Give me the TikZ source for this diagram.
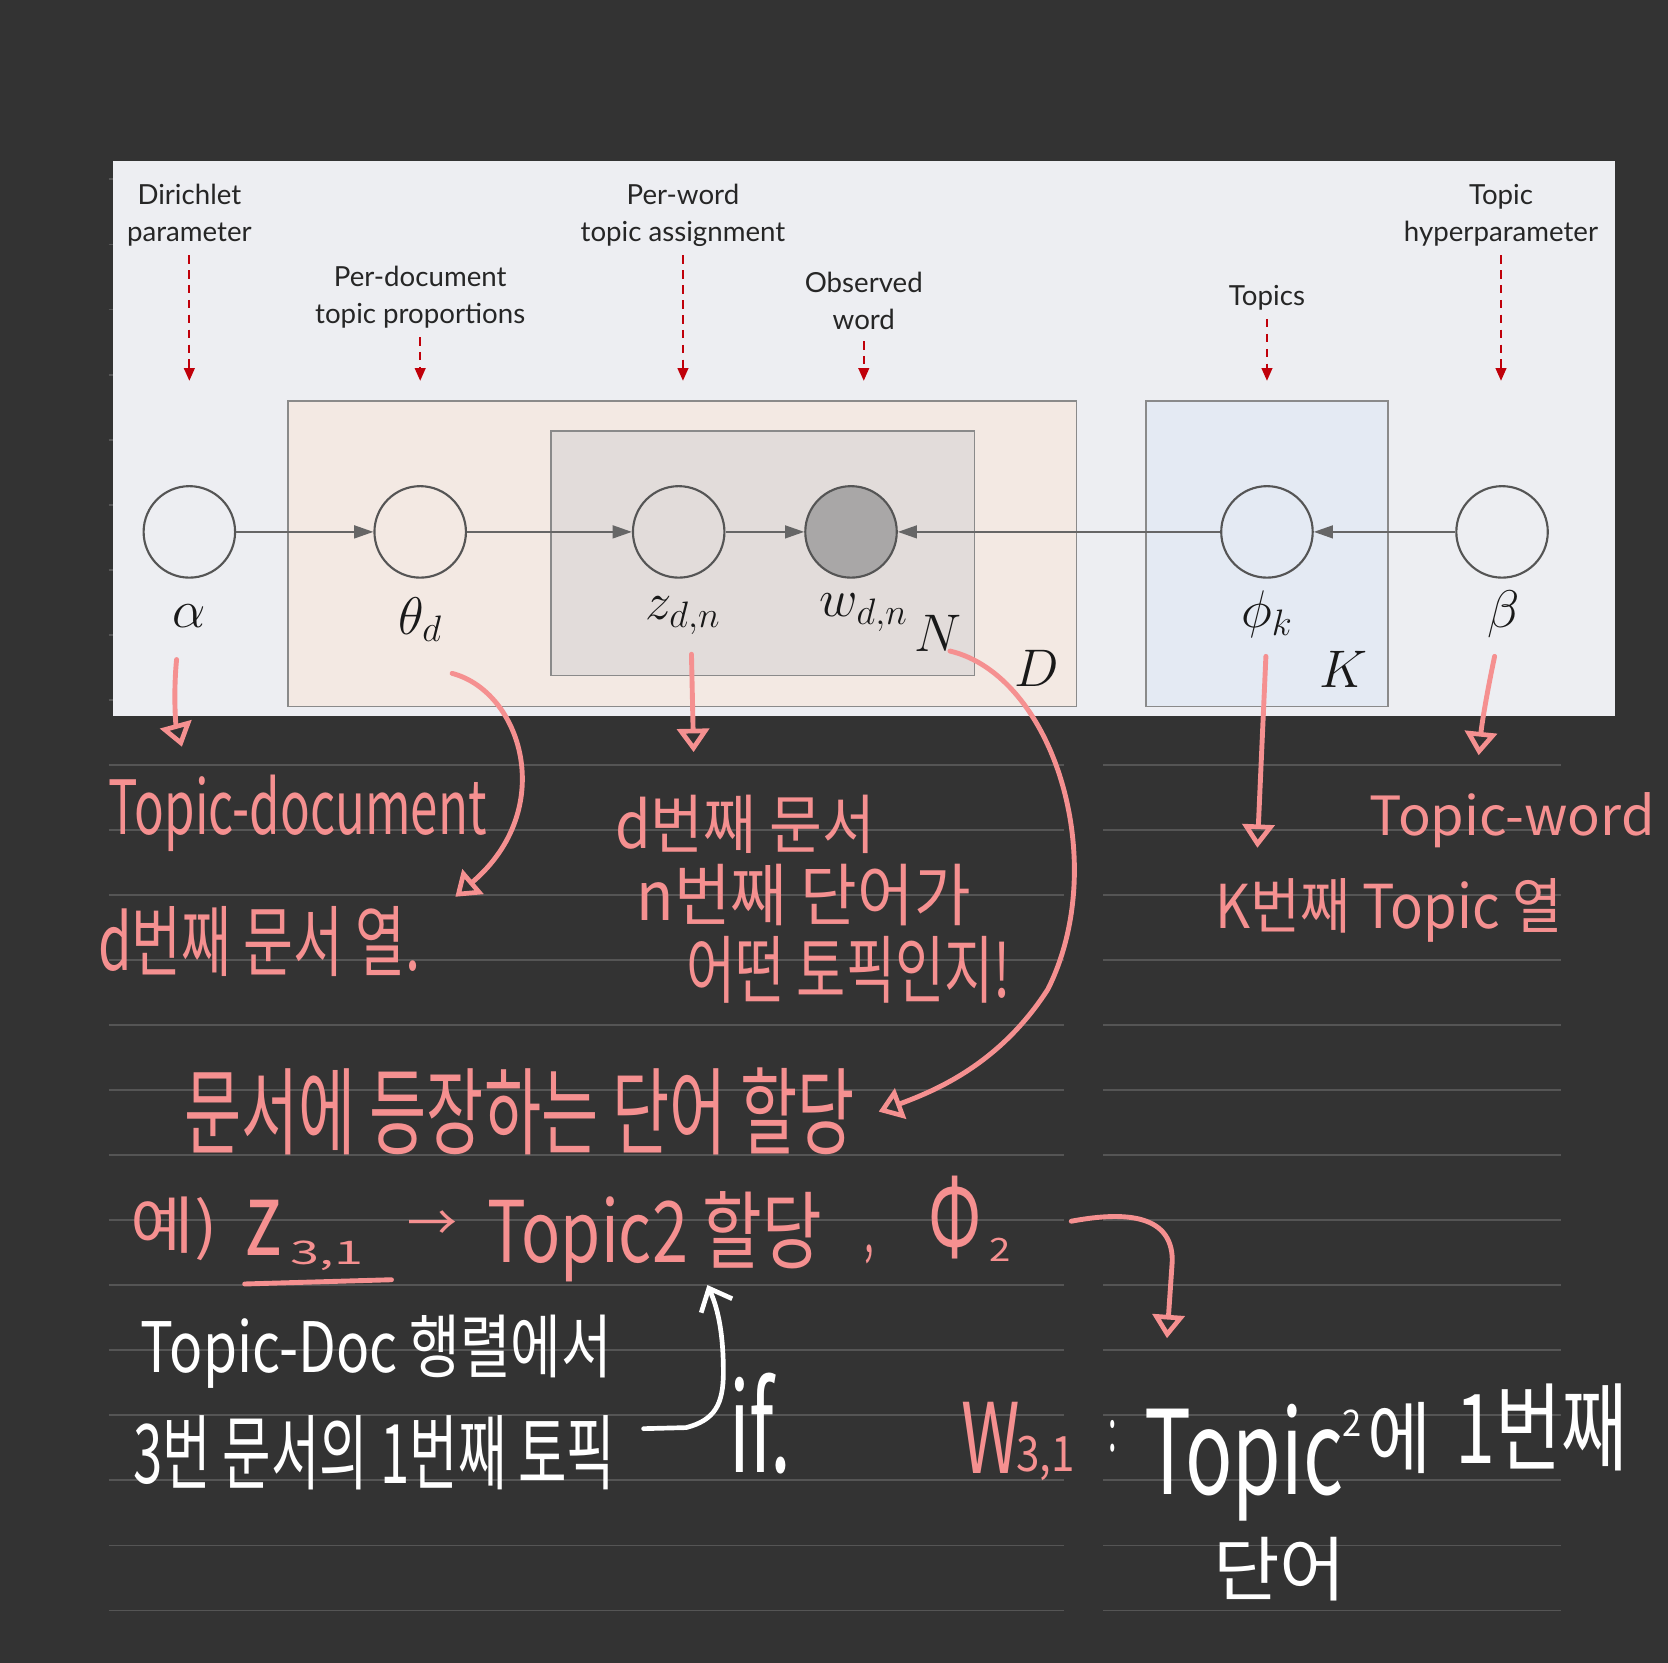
\documentclass[tikz,border=0pt]{standalone}
\usepackage{fontspec}
\usepackage{graphicx}
\setmainfont{Lato}
\newfontfamily\kr{Noto Sans CJK KR}
\usetikzlibrary{arrows.meta}
\definecolor{bgc}{HTML}{333333}
\definecolor{nbline}{HTML}{555555}
\definecolor{panelc}{HTML}{EDEEF2}
\definecolor{platD}{HTML}{F3E9E3}
\definecolor{platN}{HTML}{E2DCDA}
\definecolor{platK}{HTML}{E4EAF3}
\definecolor{plateb}{HTML}{8A8A8A}
\definecolor{nodeb}{HTML}{555555}
\definecolor{obsfill}{HTML}{A9A7A7}
\definecolor{connc}{HTML}{666666}
\definecolor{redc}{HTML}{C0000A}
\definecolor{pinkc}{HTML}{F59090}
\newdimen\pxu \pxu=0.5pt
\newcommand{\hwtext}[3]{\resizebox*{#1\pxu}{#2\pxu}{\kr #3}}
\begin{document}
\begin{tikzpicture}[x=0.5pt,y=-0.5pt,
  nb/.style={draw=nbline,line width=0.9pt},
  plate/.style={draw=plateb,line width=0.8pt},
  var/.style={circle,draw=nodeb,line width=1pt,minimum size=43pt,inner sep=0pt},
  conn/.style={draw=connc,line width=1pt,-{Triangle[length=9pt,width=6pt]}},
  toplab/.style={align=center,inner sep=0pt,font=\fontsize{13}{17.5}\selectfont,text=black!85,anchor=base},
  redarr/.style={draw=redc,line width=1pt,dash pattern=on 4pt off 3pt,-{Triangle[length=6pt,width=5pt]}},
  mlab/.style={inner sep=0pt,anchor=base,font=\fontsize{26}{30}\selectfont,text=black!90},
  hw/.style={inner sep=0pt,anchor=north west,text=pinkc},
  hwh/.style={inner sep=0pt,anchor=north west,text=white},
  pk/.style={draw=pinkc,line width=2.3pt,line cap=round,line join=round},
  pktip/.style={-{Triangle[open,length=11pt,width=15pt,line width=2.2pt]}},
  wh/.style={draw=white,line width=2.2pt,line cap=round,line join=round}]
\fill[bgc] (0,0) rectangle (1568,1563);
\useasboundingbox (0,0) rectangle (1568,1563);
% notebook lines
\foreach \k in {-9,...,13}{
  \draw[nb] (102,{719+61.15*\k}) -- (1000,{719+61.15*\k});
  \draw[nb] (1037,{719+61.15*\k}) -- (1467,{719+61.15*\k});
}
% panel
\fill[panelc] (106,151) rectangle (1518,673);
% plates
\draw[plate,fill=platD] (271,377) rectangle (1012,664);
\draw[plate,fill=platN] (518,405) rectangle (916,635);
\draw[plate,fill=platK] (1077,377) rectangle (1305,664);
% variables
\node[var] (alpha) at (178,500) {};
\node[var] (theta) at (395,500) {};
\node[var] (z) at (638,500) {};
\node[var,fill=obsfill] (w) at (800,500) {};
\node[var] (phi) at (1191,500) {};
\node[var] (beta) at (1412,500) {};
\draw[conn] (alpha) -- (theta);
\draw[conn] (theta) -- (z);
\draw[conn] (z) -- (w);
\draw[conn] (phi) -- (w);
\draw[conn] (beta) -- (phi);
% math labels
\node[mlab] (lalpha) at (178,590) {$\alpha$};
\node[mlab] (ltheta) at (395,596) {$\theta_d$};
\node[mlab] (lz) at (642,582) {$z_{d,n}$};
\node[mlab] (lw) at (812,580) {$w_{d,n}$};
\node[mlab] (lN) at (882,612) {$N$};
\node[mlab] (lD) at (975,645) {$D$};
\node[mlab] (lphi) at (1191,590) {$\phi_k$};
\node[mlab] (lK) at (1263,646) {$K$};
\node[mlab] (lbeta) at (1413,590) {$\beta$};
% top labels (base = baseline of last line)
\node[toplab] (t1) at (178,227) {Dirichlet\\parameter};
\node[toplab] (t2) at (395,304) {Per-document\\topic proportions};
\node[toplab] (t3) at (642,227) {Per-word\\topic assignment};
\node[toplab] (t4) at (812,310) {Observed\\word};
\node[toplab] (t5) at (1191,287) {Topics};
\node[toplab] (t6) at (1411,227) {Topic\\hyperparameter};
\draw[redarr,shorten <=4pt] (t1.south) -- (t1.south |- 0,358);
\draw[redarr,shorten <=4pt] (t2.south) -- (t2.south |- 0,358);
\draw[redarr,shorten <=4pt] (t3.south) -- (t3.south |- 0,358);
\draw[redarr,shorten <=5pt] (t4.south) -- (t4.south |- 0,358);
\draw[redarr,shorten <=4pt] (t5.south) -- (t5.south |- 0,358);
\draw[redarr,shorten <=4pt] (t6.south) -- (t6.south |- 0,358);
% pink handwritten notes
\node[hw] (p1) at (102,728) {\hwtext{355}{72}{Topic-document}};
\node[hw] (p2) at (92,852) {\hwtext{303}{66}{d번째 문서 열.}};
\node[hw] (p3) at (578,747) {\hwtext{244}{55}{d번째 문서}};
\node[hw] (p4) at (598,812) {\hwtext{314}{58}{n번째 단어가}};
\node[hw] (p5) at (645,880) {\hwtext{305}{63}{어떤 토픽인지!}};
\node[hw] (p6) at (173,1003) {\hwtext{630}{82}{문서에 등장하는 단어 할당}};
\node[hw] (p7) at (122,1125) {\hwtext{82}{60}{예)}};
\node[hw] (p8) at (230,1128) {\hwtext{34}{52}{z}};
\node[hw] (p9) at (273,1166) {\hwtext{68}{28}{3,1}};
\node[hw] (p10) at (383,1138) {\hwtext{47}{28}{→}};
\node[hw] (p11) at (458,1120) {\hwtext{314}{85}{Topic2 할당}};
\node[hw] (p12) at (812,1170) {\hwtext{9}{18}{,}};
\node[hw] (p13) at (872,1105) {\hwtext{50}{78}{Φ}};
\node[hw] (p14) at (930,1163) {\hwtext{20}{22}{2}};
\node[hw] (p15) at (1287,745) {\hwtext{268}{52}{Topic-word}};
\node[hw] (p16) at (1142,825) {\hwtext{326}{60}{K번째 Topic 열}};
\node[hw] (p17) at (903,1318) {\hwtext{55}{67}{W}};
\node[hw] (p18) at (955,1350) {\hwtext{55}{42}{3,1}};
% white handwritten notes
\node[hwh] (w1) at (132,1236) {\hwtext{443}{69}{Topic-Doc 행렬에서}};
\node[hwh] (w2) at (125,1330) {\hwtext{453}{70}{3번 문서의 1번째 토픽}};
\node[hwh] (w3) at (685,1290) {\hwtext{58}{95}{if.}};
\node[hwh] (w4) at (1042,1335) {\hwtext{8}{30}{:}};
\node[hwh] (w5) at (1075,1320) {\hwtext{187}{110}{Topic}};
\node[hwh] (w6) at (1262,1325) {\hwtext{18}{25}{2}};
\node[hwh] (w7) at (1285,1318) {\hwtext{60}{67}{에}};
\node[hwh] (w8) at (1368,1300) {\hwtext{162}{82}{1번째}};
\node[hwh] (w9) at (1140,1445) {\hwtext{125}{60}{단어}};
% pink arrows
\coordinate (a1s) at (166,620); \coordinate (a1e) at (171,702);
\draw[pk,pktip] (a1s) .. controls (163,650) and (165,680) .. (a1e);
\coordinate (a2s) at (425,633); \coordinate (a2e) at (428,843);
\draw[pk,pktip] (a2s) .. controls (490,650) and (525,760) .. (a2e);
\coordinate (a3s) at (650,615); \coordinate (a3e) at (652,707);
\draw[pk,pktip] (a3s) -- (a3e);
\coordinate (a4s) at (893,612); \coordinate (a4m) at (985,930); \coordinate (a4e) at (826,1045);
\draw[pk,pktip] (a4s) .. controls (990,635) and (1045,810) .. (a4m) .. controls (940,1000) and (880,1025) .. (a4e);
\coordinate (a5s) at (1190,617); \coordinate (a5e) at (1182,797);
\draw[pk,pktip] (a5s) -- (a5e);
\coordinate (a6s) at (1405,617); \coordinate (a6e) at (1390,710);
\draw[pk,pktip] (a6s) .. controls (1398,650) and (1393,680) .. (a6e);
\coordinate (a7s) at (1007,1148); \coordinate (a7e) at (1097,1258);
\draw[pk,pktip] (a7s) .. controls (1050,1140) and (1102,1138) .. (1102,1185) -- (a7e);
\coordinate (u1) at (230,1207); \coordinate (u2) at (368,1203);
\draw[pk] (u1) -- (u2);
% white arrow
\coordinate (b1s) at (605,1343); \coordinate (b1e) at (665,1208);
\draw[wh,-{Straight Barb[length=9pt,width=16pt,line width=2.2pt]}] (b1s) -- (645,1342) .. controls (672,1335) and (680,1320) .. (680,1290) .. controls (680,1250) and (674,1228) .. (b1e);
\end{tikzpicture}
\end{document}
